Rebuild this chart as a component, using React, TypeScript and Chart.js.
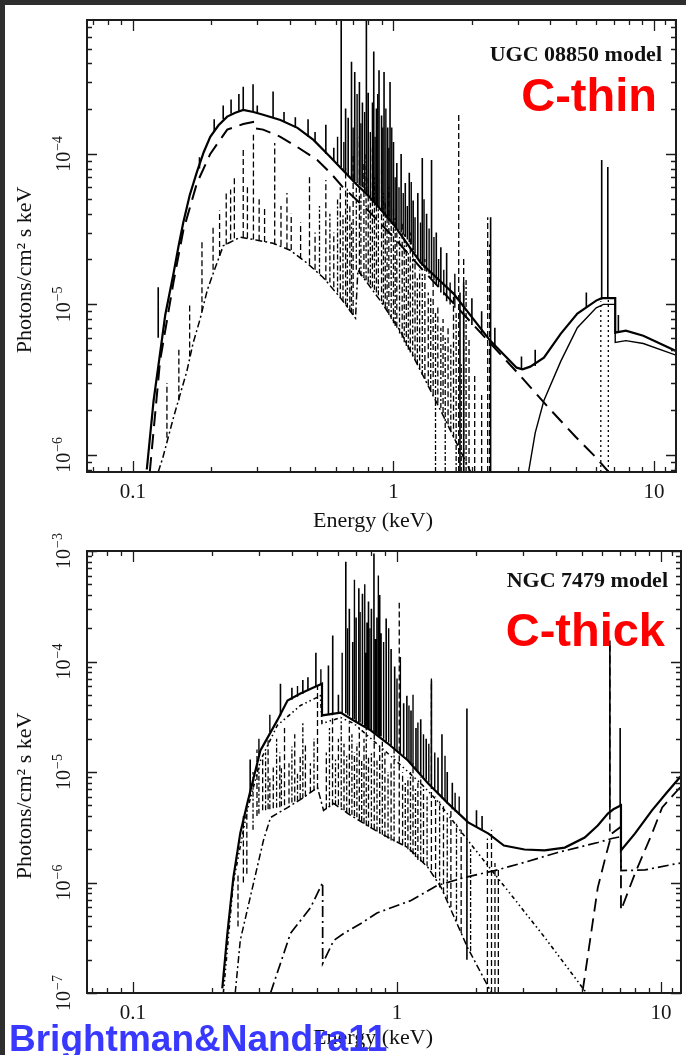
import React, { useEffect, useRef } from 'react';
import { Chart, registerables } from 'chart.js';

Chart.register(...registerables);

// ================= UGC 08850 model (top panel) =================
const topXRange = [0.0666, 12.15];
const topYRange = [7.7e-7, 7.76e-4];

// total model continuum (thick solid)
const topTotalE = [0.113, 0.120, 0.127, 0.133, 0.143, 0.150, 0.156, 0.165, 0.176, 0.187, 0.198, 0.213, 0.230, 0.247, 0.265, 0.290, 0.316, 0.368, 0.428, 0.493, 0.572, 0.64, 0.72, 0.80, 0.90, 1.00, 1.27, 1.70, 2.35, 2.97, 3.13, 3.35, 3.78, 4.39, 5.08, 6.0, 6.3, 7.1, 7.1, 7.8, 9.1, 12.15];
const topTotalV = [8e-7, 2.3e-6, 4.7e-6, 8.5e-6, 1.6e-5, 2.5e-5, 3.5e-5, 5.3e-5, 7.6e-5, 1.03e-4, 1.30e-4, 1.55e-4, 1.77e-4, 1.88e-4, 1.96e-4, 1.90e-4, 1.82e-4, 1.68e-4, 1.49e-4, 1.24e-4, 9.55e-5, 7.8e-5, 6.3e-5, 5.3e-5, 4.2e-5, 3.4e-5, 1.9e-5, 1.18e-5, 5.75e-6, 3.8e-6, 3.7e-6, 3.86e-6, 4.43e-6, 6.4e-6, 8.7e-6, 1.06e-5, 1.1e-5, 1.1e-5, 6.5e-6, 6.7e-6, 6.2e-6, 4.9e-6];

// power law (long dashes)
const topPlE = [0.116, 0.127, 0.143, 0.156, 0.176, 0.198, 0.230, 0.265, 0.289, 0.289, 0.316, 0.368, 0.428, 0.51, 0.572, 0.64, 0.80, 1.00, 1.27, 2.0, 3.0, 4.0, 5.0, 6.0, 6.7];
const topPlV = [7.7e-7, 4.2e-6, 1.4e-5, 3.1e-5, 6.4e-5, 1.0e-4, 1.45e-4, 1.58e-4, 1.63e-4, 1.49e-4, 1.45e-4, 1.30e-4, 1.11e-4, 9.1e-5, 7.5e-5, 6.0e-5, 4.2e-5, 2.8e-5, 1.76e-5, 7.5e-6, 3.5e-6, 2.0e-6, 1.32e-6, 9.6e-7, 7.7e-7];

// thermal plasma continuum (dash-dot)
const topThE = [0.125, 0.130, 0.143, 0.161, 0.170, 0.181, 0.193, 0.203, 0.222, 0.258, 0.300, 0.345, 0.401, 0.466, 0.537, 0.625, 0.715, 0.73, 0.89, 1.06, 1.27, 1.52, 1.81, 1.98];
const topThV = [7.7e-7, 9.5e-7, 1.77e-6, 3.6e-6, 5.5e-6, 8.0e-6, 1.25e-5, 1.6e-5, 2.45e-5, 2.8e-5, 2.67e-5, 2.55e-5, 2.29e-5, 1.88e-5, 1.51e-5, 1.11e-5, 8.1e-6, 1.69e-5, 1.06e-5, 6.7e-6, 3.63e-6, 1.96e-6, 1.06e-6, 7.7e-7];

// reflection (thin solid)
const topReflE = [3.3, 3.5, 3.78, 4.39, 5.08, 6.0, 6.4, 7.1, 7.1, 7.8, 9.1, 12.15];
const topReflV = [7.7e-7, 1.4e-6, 2.3e-6, 4.2e-6, 7.0e-6, 9.5e-6, 1.0e-5, 1.0e-5, 5.6e-6, 5.75e-6, 5.5e-6, 4.6e-6];

// Fe line (dotted)
const topFeE = [6.25, 6.68];
const topFeLo = [7.7e-7, 7.7e-7];
const topFeHi = [1.05e-5, 1.08e-5];

// emission lines on the total model (solid spikes)
const topLineE = [0.125, 0.180, 0.205, 0.222, 0.238, 0.255, 0.265, 0.289, 0.300, 0.345, 0.38, 0.42, 0.47, 0.50, 0.55, 0.59, 0.63, 0.655, 0.67, 0.69, 0.71, 0.74, 0.76, 0.787, 0.80, 0.84, 0.86, 0.88, 0.90, 0.92, 0.95, 0.97, 1.00, 1.03, 1.07, 1.11, 1.15, 1.19, 1.24, 1.29, 1.34, 1.40, 1.46, 1.52, 1.60, 1.80, 1.86, 2.00, 2.18, 2.36, 2.45, 3.10, 3.50, 5.50, 6.30, 6.65, 7.30];
const topLineLo = [6.0e-6, 8e-5, 1.4e-4, 1.7e-4, 1.85e-4, 1.9e-4, 1.95e-4, 1.9e-4, 1.85e-4, 1.75e-4, 1.65e-4, 1.5e-4, 1.3e-4, 1.2e-4, 1.0e-4, 9e-5, 8.2e-5, 7.5e-5, 7.2e-5, 6.9e-5, 6.6e-5, 6.2e-5, 6.0e-5, 5.5e-5, 5.3e-5, 4.8e-5, 4.6e-5, 4.4e-5, 4.2e-5, 4.0e-5, 3.8e-5, 3.6e-5, 3.4e-5, 3.2e-5, 3.0e-5, 2.8e-5, 2.6e-5, 2.3e-5, 2.0e-5, 1.8e-5, 1.65e-5, 1.5e-5, 1.35e-5, 1.2e-5, 1.05e-5, 7.7e-7, 7.7e-7, 7.3e-6, 6.4e-6, 7.7e-7, 5.2e-6, 3.7e-6, 3.9e-6, 9.5e-6, 1.08e-5, 1.1e-5, 6.6e-6];
const topLineHi = [1.3e-5, 9.5e-5, 1.7e-4, 2.1e-4, 2.3e-4, 2.5e-4, 2.8e-4, 2.9e-4, 2.1e-4, 2.6e-4, 1.9e-4, 1.75e-4, 1.7e-4, 1.4e-4, 1.56e-4, 1.1e-4, 8e-4, 2.0e-4, 1.74e-4, 4.1e-4, 3.5e-4, 3.0e-4, 2.2e-4, 8e-4, 2.55e-4, 4.8e-4, 2.0e-4, 3.6e-4, 1.8e-4, 3.5e-4, 1.5e-4, 3.0e-4, 1.2e-4, 8.7e-5, 1.0e-4, 6.4e-5, 7.5e-5, 4.9e-5, 5.5e-5, 9.4e-5, 4.0e-5, 9.1e-5, 3.0e-5, 2.4e-5, 2.2e-5, 1.2e-5, 1.4e-5, 1.1e-5, 9e-6, 3.8e-5, 7e-6, 4.5e-6, 5e-6, 1.2e-5, 9.1e-5, 8.2e-5, 8.5e-6];
// weaker blended lines on the total model
const topLine2E = [0.61, 0.645, 0.70, 0.725, 0.75, 0.775, 0.815, 0.83, 0.85, 0.87, 0.91, 0.935, 0.96, 0.985, 1.015, 1.05, 1.09, 1.13, 1.17, 1.21, 1.27, 1.31, 1.37, 1.43, 1.49, 1.56, 1.65, 1.72];
const topLine2Lo = [8.6e-5, 7.7e-5, 6.8e-5, 6.4e-5, 6.1e-5, 5.7e-5, 5.1e-5, 4.9e-5, 4.7e-5, 4.5e-5, 4.1e-5, 3.9e-5, 3.7e-5, 3.5e-5, 3.3e-5, 3.1e-5, 2.9e-5, 2.7e-5, 2.5e-5, 2.2e-5, 1.9e-5, 1.75e-5, 1.6e-5, 1.45e-5, 1.3e-5, 1.15e-5, 1.0e-5, 9.5e-6];
const topLine2Hi = [1.3e-4, 1.2e-4, 1.5e-4, 2.5e-4, 1.6e-4, 1.9e-4, 1.4e-4, 2.2e-4, 1.3e-4, 2.5e-4, 1.5e-4, 2.0e-4, 1.1e-4, 1.5e-4, 7e-5, 6.0e-5, 5.5e-5, 4.5e-5, 6.5e-5, 3.8e-5, 3.5e-5, 5e-5, 3.2e-5, 2.8e-5, 2.0e-5, 1.7e-5, 1.4e-5, 1.6e-5];

// emission lines of the thermal component (dashed spikes)
const topThLineE = [0.135, 0.150, 0.165, 0.184, 0.203, 0.215, 0.228, 0.237, 0.245, 0.265, 0.275, 0.290, 0.305, 0.320, 0.350, 0.370, 0.390, 0.405, 0.440, 0.476, 0.50, 0.55, 0.59, 0.625, 0.655, 0.68, 0.70, 0.74, 0.77, 0.80, 0.83, 0.86, 0.90, 0.93, 0.96, 1.00, 1.03, 1.08, 1.12, 1.16, 1.21, 1.26, 1.32, 1.36, 1.42, 1.48, 1.55, 1.62, 1.70, 1.78, 1.86, 1.95, 2.05, 2.18, 2.30, 2.34];
const topThLineLo = [1.3e-6, 2.3e-6, 4.5e-6, 9e-6, 1.7e-5, 2.1e-5, 2.5e-5, 2.7e-5, 2.75e-5, 2.8e-5, 2.75e-5, 2.7e-5, 2.65e-5, 2.6e-5, 2.5e-5, 2.45e-5, 2.35e-5, 2.3e-5, 2.0e-5, 1.85e-5, 1.7e-5, 1.45e-5, 1.3e-5, 1.1e-5, 1.0e-5, 9e-6, 8.5e-6, 1.6e-5, 1.5e-5, 1.4e-5, 1.3e-5, 1.2e-5, 1.05e-5, 9.5e-6, 8.5e-6, 7.5e-6, 7e-6, 6e-6, 5.3e-6, 4.8e-6, 4.3e-6, 3.7e-6, 3.2e-6, 2.9e-6, 2.5e-6, 2.2e-6, 1.9e-6, 1.6e-6, 1.3e-6, 7.7e-7, 7.7e-7, 7.7e-7, 7.7e-7, 7.7e-7, 7.7e-7, 7.7e-7];
const topThLineHi = [3.0e-6, 5.0e-6, 1.0e-5, 2.7e-5, 3.3e-5, 4.2e-5, 5.5e-5, 5.8e-5, 7.0e-5, 1.1e-4, 6.0e-5, 1.34e-4, 5.0e-5, 4.5e-5, 1.18e-4, 4.5e-5, 5.5e-5, 4.0e-5, 3.5e-5, 7.0e-5, 3.0e-5, 6.7e-5, 3.0e-5, 6.0e-5, 8.0e-5, 4.5e-5, 1.0e-4, 1.3e-4, 9e-5, 7e-5, 1.1e-4, 6e-5, 8e-5, 5e-5, 6e-5, 4.5e-5, 3.0e-5, 3.5e-5, 2.5e-5, 3.0e-5, 2.0e-5, 1.7e-5, 2.0e-5, 1.2e-5, 1.5e-5, 1.0e-5, 8e-6, 7e-6, 1.2e-5, 1.9e-4, 2e-5, 6e-6, 3.5e-6, 2.5e-6, 3.8e-5, 2.5e-5];
const topThLine2E = [0.52, 0.57, 0.61, 0.64, 0.665, 0.69, 0.72, 0.75, 0.785, 0.815, 0.845, 0.875, 0.915, 0.945, 0.98, 1.015, 1.055, 1.10, 1.14, 1.185, 1.235, 1.29, 1.39, 1.45, 1.52, 1.58, 1.66, 1.74, 1.82, 1.90];
const topThLine2Lo = [1.6e-5, 1.4e-5, 1.2e-5, 1.05e-5, 9.5e-6, 8.8e-6, 1.7e-5, 1.55e-5, 1.45e-5, 1.35e-5, 1.25e-5, 1.15e-5, 1.0e-5, 9e-6, 8e-6, 7.2e-6, 6.4e-6, 5.6e-6, 5e-6, 4.5e-6, 4e-6, 3.4e-6, 2.7e-6, 7.7e-7, 2.05e-6, 7.7e-7, 1.45e-6, 7.7e-7, 7.7e-7, 7.7e-7];
const topThLine2Hi = [4.5e-5, 4e-5, 5e-5, 4e-5, 6e-5, 3.5e-5, 6e-5, 5.5e-5, 1.0e-4, 5e-5, 7e-5, 4.5e-5, 5.5e-5, 4e-5, 3.5e-5, 3.8e-5, 2.8e-5, 3e-5, 2.2e-5, 2.4e-5, 1.5e-5, 1.6e-5, 1.1e-5, 9e-6, 7e-6, 6e-6, 5.5e-6, 9e-6, 4e-6, 1.5e-5];

// ================= NGC 7479 model (bottom panel) =================
const botXRange = [0.067, 11.9];
const botYRange = [1e-7, 1e-3];

const botTotalE = [0.218, 0.228, 0.240, 0.255, 0.271, 0.304, 0.352, 0.385, 0.431, 0.483, 0.52, 0.52, 0.612, 0.686, 0.795, 0.924, 1.10, 1.31, 1.56, 1.86, 2.22, 2.54, 3.04, 3.62, 4.32, 5.14, 5.76, 6.29, 6.6, 7.05, 7.05, 7.96, 9.24, 10.5, 11.9];
const botTotalV = [1.1e-7, 3.5e-7, 1.1e-6, 2.8e-6, 5.2e-6, 1.57e-5, 2.93e-5, 4.44e-5, 5.13e-5, 5.82e-5, 6.3e-5, 3.25e-5, 3.45e-5, 2.92e-5, 2.38e-5, 1.81e-5, 1.27e-5, 7.9e-6, 5.2e-6, 3.5e-6, 2.77e-6, 2.16e-6, 1.99e-6, 1.95e-6, 2.07e-6, 2.55e-6, 3.28e-6, 4.21e-6, 4.6e-6, 5.0e-6, 1.95e-6, 2.77e-6, 4.5e-6, 6.5e-6, 9.2e-6];

// scattered power law (dash-dot-dot)
const botScatE = [0.22, 0.240, 0.271, 0.304, 0.352, 0.431, 0.513, 0.52, 0.612, 0.686, 0.924, 1.23, 1.42, 1.91, 2.71, 3.62, 5.14, 5.35];
const botScatV = [1.0e-7, 1.0e-6, 4.5e-6, 1.27e-5, 2.64e-5, 4.0e-5, 4.9e-5, 2.75e-5, 3.11e-5, 2.75e-5, 1.47e-5, 7.9e-6, 5.5e-6, 2.2e-6, 7.7e-7, 3.2e-7, 1.05e-7, 1.0e-7];

// absorbed power law (long dash-dot)
const botAbsE = [0.332, 0.395, 0.471, 0.523, 0.523, 0.576, 0.629, 0.73, 0.84, 1.13, 1.42, 1.80, 2.34, 3.04, 4.06, 5.76, 6.51, 7.05, 7.05, 8.69, 11.6, 11.9];
const botAbsV = [1.0e-7, 3.46e-7, 5.94e-7, 1.0e-6, 1.85e-7, 2.99e-7, 3.46e-7, 4.26e-7, 5.3e-7, 6.87e-7, 9.4e-7, 1.11e-6, 1.28e-6, 1.52e-6, 1.87e-6, 2.3e-6, 2.5e-6, 2.6e-6, 1.28e-6, 1.3e-6, 1.49e-6, 1.5e-6];

// reflection (long dashes)
const botReflE = [5.05, 5.76, 6.2, 6.51, 7.05, 7.05, 7.96, 9.24, 10.1, 11.9];
const botReflV = [1.05e-7, 9.0e-7, 1.8e-6, 2.77e-6, 3.2e-6, 5.6e-7, 1.2e-6, 2.77e-6, 4.78e-6, 7.4e-6];

// thermal plasma continuum (dash-dot)
const botThE = [0.244, 0.255, 0.286, 0.312, 0.332, 0.385, 0.443, 0.500, 0.527, 0.576, 0.652, 0.75, 0.87, 1.10, 1.31, 1.47, 1.85, 2.28];
const botThV = [1e-7, 3.0e-7, 9.8e-7, 2.4e-6, 3.87e-6, 4.77e-6, 5.88e-6, 7.24e-6, 4.49e-6, 5.19e-6, 4.21e-6, 3.42e-6, 2.77e-6, 2.07e-6, 1.37e-6, 9.0e-7, 2.58e-7, 1e-7];

// emission lines on the total model (solid spikes)
const botLineE = [0.278, 0.362, 0.40, 0.44, 0.46, 0.493, 0.55, 0.571, 0.60, 0.64, 0.66, 0.68, 0.70, 0.717, 0.74, 0.76, 0.77, 0.78, 0.80, 0.818, 0.83, 0.84, 0.86, 0.87, 0.91, 0.95, 0.98, 1.06, 1.09, 1.13, 1.18, 1.23, 1.29, 1.35, 1.43, 1.48, 1.55, 1.62, 1.84, 2.0, 2.1, 6.4, 7.0];
const botLineLo = [6e-6, 3.2e-5, 4.5e-5, 5.1e-5, 5.5e-5, 5.9e-5, 3.3e-5, 3.4e-5, 3.4e-5, 3.4e-5, 3.2e-5, 3.0e-5, 2.9e-5, 2.8e-5, 2.7e-5, 2.6e-5, 2.5e-5, 2.45e-5, 2.35e-5, 2.3e-5, 2.25e-5, 2.2e-5, 2.1e-5, 2.1e-5, 1.9e-5, 1.75e-5, 1.6e-5, 1.4e-5, 1.3e-5, 1.2e-5, 1.05e-5, 9.5e-6, 8.5e-6, 7.5e-6, 6.3e-6, 5.8e-6, 5.2e-6, 4.6e-6, 2e-7, 3.2e-6, 3.0e-6, 4.4e-6, 5e-6];
const botLineHi = [1.3e-5, 6.3e-5, 5.8e-5, 6.8e-5, 7.2e-5, 1.2e-4, 9.2e-5, 1.72e-4, 5e-5, 8e-4, 3e-4, 1.5e-4, 2.5e-4, 4.6e-4, 4.1e-4, 1.2e-4, 2.25e-4, 3.5e-4, 3e-4, 9.5e-4, 1.6e-4, 2.5e-4, 4e-4, 1.8e-4, 2.45e-4, 1.3e-4, 9e-5, 4.2e-5, 4.9e-5, 3.6e-5, 2.5e-5, 3.0e-5, 2.0e-5, 6.7e-5, 1.35e-5, 2.2e-5, 1.0e-5, 8e-6, 3.75e-5, 4.5e-6, 4e-6, 1.55e-4, 2.5e-5];
const botLine2E = [0.30, 0.33, 0.42, 0.515, 0.62, 0.65, 0.69, 0.725, 0.755, 0.79, 0.85, 0.89, 0.93, 1.0, 1.03, 1.11, 1.15, 1.20, 1.26, 1.32, 1.39, 1.52, 1.66, 1.72];
const botLine2Lo = [1.4e-5, 2.3e-5, 4.8e-5, 6.1e-5, 3.4e-5, 3.3e-5, 3.0e-5, 2.8e-5, 2.6e-5, 2.4e-5, 2.15e-5, 2.0e-5, 1.85e-5, 1.55e-5, 1.45e-5, 1.25e-5, 1.15e-5, 1.0e-5, 9e-6, 8e-6, 7e-6, 5.5e-6, 4.4e-6, 4.1e-6];
const botLine2Hi = [2.0e-5, 3.3e-5, 6.0e-5, 8.5e-5, 1.2e-4, 2e-4, 5.5e-4, 2.8e-4, 5e-4, 2e-4, 6e-4, 1.5e-4, 2e-4, 7e-5, 1.1e-4, 4e-5, 5e-5, 2.8e-5, 2.2e-5, 1.8e-5, 1.5e-5, 1.4e-5, 6.5e-6, 6e-6];

// emission lines of the thermal component (dashed spikes)
const botThLineE = [0.25, 0.262, 0.27, 0.295, 0.31, 0.325, 0.34, 0.36, 0.375, 0.39, 0.41, 0.43, 0.45, 0.47, 0.50, 0.54, 0.57, 0.60, 0.63, 0.66, 0.69, 0.72, 0.75, 0.78, 0.82, 0.86, 0.90, 0.95, 1.02, 1.05, 1.10, 1.15, 1.20, 1.26, 1.35, 1.40, 1.50, 1.60, 1.75, 2.2, 2.28, 2.35, 2.42];
const botThLineLo = [4e-7, 1e-6, 1.2e-6, 4e-6, 4.5e-6, 4.6e-6, 4.7e-6, 4.8e-6, 5e-6, 5.2e-6, 5.4e-6, 5.7e-6, 6e-6, 6.5e-6, 7e-6, 4.6e-6, 5e-6, 5e-6, 4.5e-6, 4.2e-6, 4e-6, 3.7e-6, 3.4e-6, 3.2e-6, 3.0e-6, 2.8e-6, 2.6e-6, 2.4e-6, 2.3e-6, 2.2e-6, 2.0e-6, 1.8e-6, 1.6e-6, 1.5e-6, 1.3e-6, 1.1e-6, 8e-7, 6e-7, 3.5e-7, 1e-7, 1e-7, 1e-7, 1e-7];
const botThLineHi = [1.2e-6, 4e-6, 5e-6, 1.6e-5, 1.3e-5, 2.0e-5, 1.1e-5, 1.5e-5, 2.5e-5, 1.2e-5, 2.2e-5, 1.4e-5, 1.8e-5, 1.2e-5, 6e-5, 1.5e-5, 3.5e-5, 2e-5, 1.8e-5, 2.8e-5, 1.5e-5, 2.5e-5, 2.0e-5, 1.4e-5, 2.2e-5, 1.7e-5, 1.5e-5, 1.2e-5, 3.4e-4, 1.0e-5, 9e-6, 1.2e-5, 8e-6, 7e-6, 7.0e-5, 6e-6, 5e-6, 4.5e-6, 3e-6, 2.5e-6, 3.0e-6, 1.5e-6, 1.3e-6];
const botThLine2E = [0.285, 0.30, 0.318, 0.33, 0.35, 0.365, 0.40, 0.42, 0.44, 0.485, 0.555, 0.585, 0.615, 0.645, 0.675, 0.705, 0.735, 0.765, 0.80, 0.84, 0.88, 0.925, 0.975, 1.075, 1.125, 1.175, 1.23, 1.30, 1.45, 1.55, 1.68, 1.90];
const botThLine2Lo = [3e-6, 4.2e-6, 4.5e-6, 4.6e-6, 4.75e-6, 4.9e-6, 5.3e-6, 5.5e-6, 5.8e-6, 6.8e-6, 4.8e-6, 5e-6, 4.8e-6, 4.3e-6, 4.1e-6, 3.9e-6, 3.6e-6, 3.3e-6, 3.1e-6, 2.9e-6, 2.7e-6, 2.5e-6, 2.35e-6, 2.1e-6, 1.9e-6, 1.7e-6, 1.55e-6, 1.4e-6, 9e-7, 7e-7, 4.5e-7, 2.4e-7];
const botThLine2Hi = [1.0e-5, 1.1e-5, 1.5e-5, 9e-6, 2e-5, 1.1e-5, 1.7e-5, 1.0e-5, 2.8e-5, 2.0e-5, 2.5e-5, 1.3e-5, 3e-5, 1.4e-5, 2.2e-5, 1.8e-5, 1.3e-5, 2.6e-5, 1.5e-5, 1.3e-5, 2.0e-5, 1.0e-5, 1.6e-5, 8e-6, 1.0e-5, 7e-6, 9e-6, 6e-6, 5.5e-6, 4e-6, 3.5e-6, 2.0e-6];

// Fe line of the reflection (long dashes)
const botFeE = [6.4];
const botFeLo = [2.9e-6];
const botFeHi = [1.4e-4];

// ================= axes =================
const xMajorTicks = [0.1, 1, 10];
const xTickLabels = ['0.1', '1', '10'];
const xMinorTicks = [0.07, 0.08, 0.09, 0.2, 0.3, 0.4, 0.5, 0.6, 0.7, 0.8, 0.9, 2, 3, 4, 5, 6, 7, 8, 9, 11, 12];
const topYMajor = [1e-6, 1e-5, 1e-4];
const topYExp = ['−6', '−5', '−4'];
const botYMajor = [1e-7, 1e-6, 1e-5, 1e-4, 1e-3];
const botYExp = ['−7', '−6', '−5', '−4', '−3'];
const yMinorFactors = [2, 3, 4, 5, 6, 7, 8, 9];

const SERIF = '"Liberation Serif", "Times New Roman", Times, serif';
const SANS = '"Liberation Sans", Arial, Helvetica, sans-serif';

function curve(E: number[], V: number[]) {
  return E.map((e, i) => ({ x: e, y: V[i] }));
}
function spikes(E: number[], lo: number[], hi: number[]) {
  const pts: { x: number; y: number | null }[] = [];
  E.forEach((e, i) => {
    pts.push({ x: e, y: lo[i] }, { x: e, y: hi[i] }, { x: e, y: null });
  });
  return pts;
}
function ds(data: any[], width: number, dash: number[] = []) {
  return {
    data,
    borderColor: '#000',
    backgroundColor: '#000',
    borderWidth: width,
    borderDash: dash,
    pointRadius: 0,
    fill: false,
    tension: 0,
    spanGaps: false,
  };
}

function axesPlugin(yMajor: number[], yExp: string[]) {
  return {
    id: 'axesFrame',
    afterDraw(chart: any) {
      const { ctx, chartArea: a, scales } = chart;
      const xs = scales.x;
      const ys = scales.y;
      const [xmin, xmax] = [xs.min, xs.max];
      const [ymin, ymax] = [ys.min, ys.max];
      ctx.save();
      ctx.strokeStyle = '#1c1c1c';
      ctx.lineWidth = 1.3;
      ctx.setLineDash([]);
      ctx.beginPath();
      const xt = (v: number, len: number) => {
        if (v < xmin || v > xmax) return;
        const p = Math.round(xs.getPixelForValue(v)) + 0.5;
        ctx.moveTo(p, a.bottom); ctx.lineTo(p, a.bottom - len);
        ctx.moveTo(p, a.top); ctx.lineTo(p, a.top + len);
      };
      const yt = (v: number, len: number) => {
        if (v < ymin || v > ymax) return;
        const p = Math.round(ys.getPixelForValue(v)) + 0.5;
        ctx.moveTo(a.left, p); ctx.lineTo(a.left + len, p);
        ctx.moveTo(a.right, p); ctx.lineTo(a.right - len, p);
      };
      xMajorTicks.forEach((v) => xt(v, 11));
      xMinorTicks.forEach((v) => xt(v, 5));
      yMajor.forEach((v) => {
        yt(v, 10);
        yMinorFactors.forEach((f) => yt(v * f, 5));
      });
      yMinorFactors.forEach((f) => yt((yMajor[0] / 10) * f, 5));
      ctx.stroke();
      ctx.lineWidth = 2;
      ctx.strokeRect(a.left, a.top, a.right - a.left, a.bottom - a.top);

      ctx.fillStyle = '#151515';
      ctx.textAlign = 'center';
      ctx.textBaseline = 'alphabetic';
      ctx.font = `21px ${SERIF}`;
      xMajorTicks.forEach((v, i) => {
        ctx.fillText(xTickLabels[i], xs.getPixelForValue(v), a.bottom + 26);
      });
      yMajor.forEach((v, i) => {
        const p = ys.getPixelForValue(v);
        ctx.save();
        ctx.translate(a.left - 17, p);
        ctx.rotate(-Math.PI / 2);
        ctx.textAlign = 'left';
        ctx.font = `20px ${SERIF}`;
        const w1 = ctx.measureText('10').width;
        ctx.font = `14px ${SERIF}`;
        const w2 = ctx.measureText(yExp[i]).width;
        const start = -(w1 + w2 + 1) / 2;
        ctx.font = `20px ${SERIF}`;
        ctx.fillText('10', start, 0);
        ctx.font = `14px ${SERIF}`;
        ctx.fillText(yExp[i], start + w1 + 1, -8);
        ctx.restore();
      });
      ctx.restore();
    },
  };
}

function baseOptions(xr: number[], yr: number[], padding: any) {
  return {
    animation: false,
    responsive: false,
    devicePixelRatio: 1,
    events: [],
    layout: { padding },
    plugins: { legend: { display: false }, tooltip: { enabled: false } },
    scales: {
      x: { type: 'logarithmic', min: xr[0], max: xr[1], display: false },
      y: { type: 'logarithmic', min: yr[0], max: yr[1], display: false },
    },
    elements: { point: { radius: 0 }, line: { tension: 0 } },
  };
}

function topConfig(): any {
  return {
    type: 'line',
    data: {
      datasets: [
        ds(curve(topTotalE, topTotalV), 2.2),
        ds(spikes(topLineE, topLineLo, topLineHi), 1.6),
        ds(spikes(topLine2E, topLine2Lo, topLine2Hi), 1.4),
        ds(curve(topReflE, topReflV), 1.4),
        ds(curve(topPlE, topPlV), 2, [15, 8]),
        ds(curve(topThE, topThV), 1.5, [7, 3, 2, 3]),
        ds(spikes(topThLineE, topThLineLo, topThLineHi), 1.3, [6, 3]),
        ds(spikes(topThLine2E, topThLine2Lo, topThLine2Hi), 1.3, [5, 2, 2, 2]),
        ds(spikes(topFeE, topFeLo, topFeHi), 1.3, [2, 3]),
      ],
    },
    options: baseOptions(topXRange, topYRange, { left: 87, top: 20, right: 10, bottom: 58 }),
    plugins: [axesPlugin(topYMajor, topYExp)],
  };
}

function botConfig(): any {
  return {
    type: 'line',
    data: {
      datasets: [
        ds(curve(botTotalE, botTotalV), 2.2),
        ds(spikes(botLineE, botLineLo, botLineHi), 1.6),
        ds(spikes(botLine2E, botLine2Lo, botLine2Hi), 1.4),
        ds(curve(botScatE, botScatV), 1.6, [4, 3, 1.5, 3, 1.5, 3]),
        ds(curve(botAbsE, botAbsV), 1.7, [11, 4, 2, 4]),
        ds(curve(botReflE, botReflV), 1.8, [13, 7]),
        ds(spikes(botFeE, botFeLo, botFeHi), 1.5, [8, 4]),
        ds(curve(botThE, botThV), 1.5, [7, 3, 2, 3]),
        ds(spikes(botThLineE, botThLineLo, botThLineHi), 1.3, [6, 3]),
        ds(spikes(botThLine2E, botThLine2Lo, botThLine2Hi), 1.3, [5, 2, 2, 2]),
      ],
    },
    options: baseOptions(botXRange, botYRange, { left: 87, top: 21, right: 5, bottom: 62 }),
    plugins: [axesPlugin(botYMajor, botYExp)],
  };
}

function SpectrumCanvas({ top, height, make }: { top: number; height: number; make: () => any }) {
  const ref = useRef<HTMLCanvasElement | null>(null);
  useEffect(() => {
    if (!ref.current) return;
    const chart = new Chart(ref.current, make());
    return () => chart.destroy();
  }, []);
  return (
    <canvas
      ref={ref}
      width={686}
      height={height}
      style={{ position: 'absolute', left: 0, top, width: 686, height }}
    />
  );
}

function Txt(props: {
  x: number; base: number; size: number; text: string; family: string;
  weight?: number; color?: string; align?: 'left' | 'right' | 'center';
}) {
  const { x, base, size, text, family, weight = 400, color = '#111', align = 'left' } = props;
  const style: any = {
    position: 'absolute',
    top: base - 0.84 * size,
    fontSize: size,
    lineHeight: 1,
    fontFamily: family,
    fontWeight: weight,
    color,
    whiteSpace: 'nowrap',
  };
  if (align === 'right') style.right = 686 - x;
  else if (align === 'center') { style.left = x; style.transform = 'translateX(-50%)'; }
  else style.left = x;
  return <div style={style}>{text}</div>;
}

function YTitle({ cx, cy }: { cx: number; cy: number }) {
  return (
    <div
      style={{
        position: 'absolute', left: cx, top: cy,
        transform: 'translate(-50%, -50%) rotate(-90deg)',
        fontFamily: SERIF, fontSize: 22, lineHeight: 1, color: '#111', whiteSpace: 'nowrap',
      }}
    >
      Photons/cm² s keV
    </div>
  );
}

export default function App() {
  return (
    <div style={{ position: 'absolute', left: 0, top: 0, width: 686, height: 1055, background: '#fff', overflow: 'hidden' }}>
      <SpectrumCanvas top={0} height={530} make={topConfig} />
      <SpectrumCanvas top={530} height={525} make={botConfig} />

      <YTitle cx={24} cy={270} />
      <YTitle cx={24} cy={796} />
      <Txt x={373} base={527} size={22} text="Energy (keV)" family={SERIF} align="center" />
      <Txt x={373} base={1044} size={22} text="Energy (keV)" family={SERIF} align="center" />

      <Txt x={662} base={61} size={22} weight={700} text="UGC 08850 model" family={SERIF} align="right" />
      <Txt x={657} base={110} size={47} weight={700} text="C-thin" family={SANS} color="#ff0000" align="right" />
      <Txt x={668} base={587} size={22} weight={700} text="NGC 7479 model" family={SERIF} align="right" />
      <Txt x={665} base={645} size={47} weight={700} text="C-thick" family={SANS} color="#ff0000" align="right" />
      <Txt x={9} base={1051} size={37} weight={700} text="Brightman&Nandra11" family={SANS} color="#3838ff" align="left" />

      <div style={{ position: 'absolute', left: 0, top: 0, width: 686, height: 5, background: '#2e2e2e' }} />
      <div style={{ position: 'absolute', left: 0, top: 0, width: 5, height: 1055, background: '#2e2e2e' }} />
    </div>
  );
}
